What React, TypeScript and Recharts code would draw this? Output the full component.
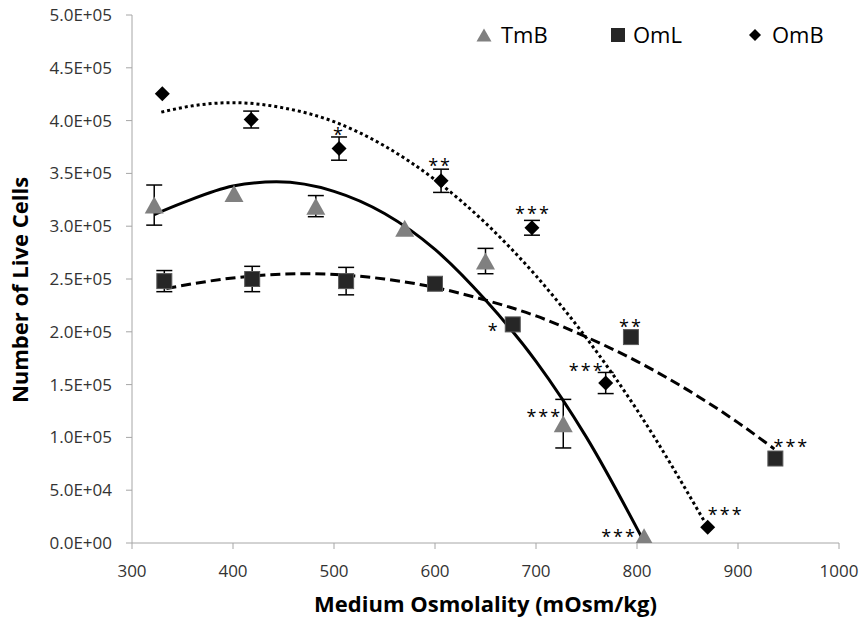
import React from 'react';
import { ComposedChart, Scatter, Line, XAxis, YAxis, ErrorBar } from 'recharts';

// ---- data ----
const tmbX = [322, 401, 482, 570, 650, 727, 807];
const tmbY = [320000, 331000, 319000, 298000, 267000, 113000, 6000];
const tmbErr = [19000, 0, 10000, 0, 12000, 23000, 0];
const tmbNotes = ['', '', '', '', '', '***', '***'];

const omlX = [332, 419, 512, 600, 677, 794, 937];
const omlY = [248000, 250000, 248000, 245500, 207000, 195000, 80000];
const omlErr = [10000, 12000, 13000, 0, 0, 0, 0];
const omlNotes = ['', '', '', '', '*', '**', '***'];

const ombX = [330, 418, 505, 606, 696, 769, 870];
const ombY = [425500, 401000, 373500, 343000, 298500, 151500, 15000];
const ombErr = [0, 8000, 11000, 11000, 7000, 10000, 0];
const ombNotes = ['', '', '*', '**', '***', '***', '***'];

// trend curves (polynomial trendlines)
const tmbTrendX = [322, 350, 400, 443, 500, 550, 600, 650, 700, 750, 806];
const tmbTrendY = [311000, 322000, 338000, 342000, 333000, 312000, 278000, 230000, 172000, 100000, 3000];
const omlTrendX = [334, 400, 470, 550, 600, 650, 700, 750, 800, 850, 900, 936];
const omlTrendY = [241000, 251000, 255000, 250000, 242000, 230000, 215000, 195000, 172000, 145000, 114000, 89000];
const ombTrendX = [329, 360, 400, 450, 500, 550, 600, 650, 700, 750, 800, 867];
const ombTrendY = [408000, 414000, 417000, 412000, 399000, 376000, 344000, 303000, 253000, 194000, 126000, 20000];

const xTicks = [300, 400, 500, 600, 700, 800, 900, 1000];
const yTicks = [0, 50000, 100000, 150000, 200000, 250000, 300000, 350000, 400000, 450000, 500000];

const seriesNames = ['TmB', 'OmL', 'OmB'];

// ---- styling (positions of annotation text relative to its marker) ----
const noteOffsets: Record<string, Record<number, [number, number]>> = {
  TmB: { 5: [-19, -1], 6: [-25, 6.5] },
  OmL: { 4: [-19, 13], 5: [0, -4.5], 6: [16, -5.5] },
  OmB: { 2: [0, -7.5], 3: [-1, -8.5], 4: [1, -7.5], 5: [-19, -6], 6: [18, -6] },
};

const FONT = '"Open Sans", "DejaVu Sans", sans-serif';

const build = (xs: number[], ys: number[], errs: number[], notes: string[]) =>
  xs.map((x, i) => ({ x, y: ys[i], err: errs[i], note: notes[i], i }));
const buildLine = (xs: number[], ys: number[]) => xs.map((x, i) => ({ x, y: ys[i] }));

const tmbData = build(tmbX, tmbY, tmbErr, tmbNotes);
const omlData = build(omlX, omlY, omlErr, omlNotes);
const ombData = build(ombX, ombY, ombErr, ombNotes);

const fmtY = (v: number) => {
  const [m, e] = v.toExponential(1).split('e');
  const n = parseInt(e, 10);
  return `${m}E${n < 0 ? '-' : '+'}${String(Math.abs(n)).padStart(2, '0')}`;
};

const Note = ({ cx, cy, series, payload }: any) => {
  if (!payload || !payload.note) return null;
  const off = noteOffsets[series][payload.i] || [0, -10];
  return (
    <text x={cx + off[0]} y={cy + off[1]} textAnchor="middle" fontSize={18} letterSpacing={2}
      fontFamily={FONT} fill="#000">{payload.note}</text>
  );
};

const TriShape = (p: any) => {
  const { cx, cy } = p;
  const w = 19, h = 17;
  return (
    <g>
      <path d={`M${cx},${cy - h / 2} L${cx + w / 2},${cy + h / 2} L${cx - w / 2},${cy + h / 2} Z`} fill="#808080" />
      <Note {...p} series="TmB" />
    </g>
  );
};
const SqShape = (p: any) => {
  const { cx, cy } = p;
  const s = 15;
  return (
    <g>
      <rect x={cx - s / 2} y={cy - s / 2} width={s} height={s} fill="#262626" stroke="#595959" strokeWidth={1} />
      <Note {...p} series="OmL" />
    </g>
  );
};
const DiaShape = (p: any) => {
  const { cx, cy } = p;
  const r = 7.5;
  return (
    <g>
      <path d={`M${cx},${cy - r} L${cx + r},${cy} L${cx},${cy + r} L${cx - r},${cy} Z`} fill="#000" />
      <Note {...p} series="OmB" />
    </g>
  );
};

const YTitle = (props: any) => {
  const vb = props.viewBox || { x: 0, y: 15, width: 132, height: 528 };
  const x = 28;
  const y = vb.y + vb.height / 2 + 11;
  return (
    <text x={x} y={y} transform={`rotate(-90 ${x} ${y})`} textAnchor="middle" fontSize={22}
      fontWeight="bold" fontFamily={FONT} fill="#000">Number of Live Cells</text>
  );
};
const XTitle = (props: any) => {
  const vb = props.viewBox || { x: 132, y: 543, width: 707, height: 40 };
  return (
    <text x={vb.x + vb.width / 2} y={vb.y + 69} textAnchor="middle" fontSize={22}
      fontWeight="bold" fontFamily={FONT} fill="#000">Medium Osmolality (mOsm/kg)</text>
  );
};

const Legend = () => (
  <svg width={860} height={70} style={{ position: 'absolute', left: 0, top: 0 }}>
    <path d="M484,28.5 L491.5,41.5 L476.5,41.5 Z" fill="#808080" />
    <text x={501} y={43} fontSize={22} fontFamily={FONT} fill="#000">{seriesNames[0]}</text>
    <rect x={611} y={28} width={14} height={14} fill="#262626" />
    <text x={633} y={43} fontSize={22} fontFamily={FONT} fill="#000">{seriesNames[1]}</text>
    <path d="M755,29 L761,35 L755,41 L749,35 Z" fill="#000" />
    <text x={772} y={43} fontSize={22} fontFamily={FONT} fill="#000">{seriesNames[2]}</text>
  </svg>
);

export default function App() {
  return (
    <div style={{ position: 'absolute', left: 0, top: 0, width: 860, height: 622, background: '#fff' }}>
      <ComposedChart width={860} height={622} margin={{ top: 15, right: 21, bottom: 39, left: 0 }}>
        <XAxis dataKey="x" type="number" domain={[300, 1000]} ticks={xTicks} allowDataOverflow
          stroke="#a6a6a6" tickSize={6} tickMargin={16} height={40}
          tick={{ fill: '#333', fontSize: 17, fontFamily: FONT }} label={XTitle} />
        <YAxis dataKey="y" type="number" domain={[0, 500000]} ticks={yTicks} tickFormatter={fmtY}
          stroke="#a6a6a6" tickSize={6} tickMargin={14} width={132} allowDataOverflow
          tick={{ fill: '#333', fontSize: 17, fontFamily: FONT }} label={YTitle} />
        <Scatter name="TmB" data={tmbData} dataKey="y" shape={TriShape} isAnimationActive={false}>
          <ErrorBar dataKey="err" direction="y" width={8} stroke="#000" strokeWidth={1.5} />
        </Scatter>
        <Scatter name="OmL" data={omlData} dataKey="y" shape={SqShape} isAnimationActive={false}>
          <ErrorBar dataKey="err" direction="y" width={8} stroke="#000" strokeWidth={1.5} />
        </Scatter>
        <Scatter name="OmB" data={ombData} dataKey="y" shape={DiaShape} isAnimationActive={false}>
          <ErrorBar dataKey="err" direction="y" width={8} stroke="#000" strokeWidth={1.5} />
        </Scatter>
        <Line data={buildLine(tmbTrendX, tmbTrendY)} dataKey="y" type="monotone" stroke="#000"
          strokeWidth={3} dot={false} activeDot={false} isAnimationActive={false} legendType="none" />
        <Line data={buildLine(omlTrendX, omlTrendY)} dataKey="y" type="monotone" stroke="#000"
          strokeWidth={3} strokeDasharray="10 5" dot={false} activeDot={false} isAnimationActive={false} legendType="none" />
        <Line data={buildLine(ombTrendX, ombTrendY)} dataKey="y" type="monotone" stroke="#000"
          strokeWidth={3} strokeDasharray="3 3" dot={false} activeDot={false} isAnimationActive={false} legendType="none" />
      </ComposedChart>
      <Legend />
    </div>
  );
}
